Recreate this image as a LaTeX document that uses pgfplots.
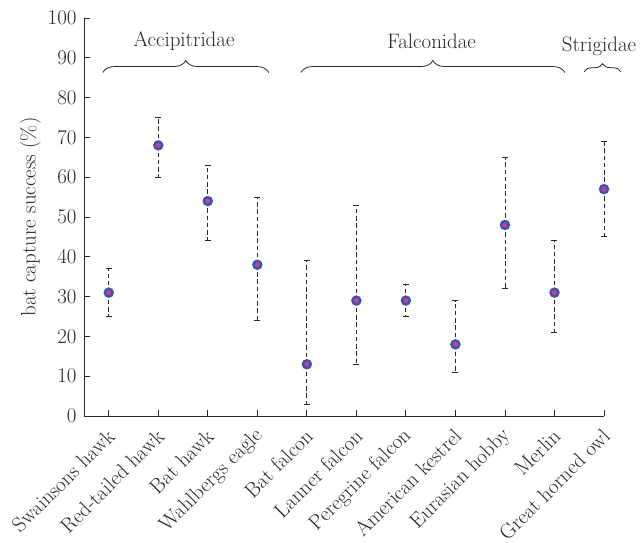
\documentclass[border=0pt]{standalone}
\usepackage{pgfplots}
\pgfplotsset{compat=1.18}
\usetikzlibrary{decorations.pathreplacing}

\definecolor{ptblue}{RGB}{64,82,170}
\definecolor{ptpink}{RGB}{184,70,150}
\definecolor{axgray}{RGB}{40,40,40}

% x, success, error up, error down
\pgfplotstableread{
x y ep em
0 31 6 6
1 68 7 8
2 54 9 10
3 38 17 14
4 13 26 10
5 29 24 16
6 29 4 4
7 18 11 7
8 48 17 16
9 31 13 10
10 57 12 12
}\capture

\newcommand{\lblfont}{\fontsize{21}{23}\selectfont}

\begin{document}
\begin{tikzpicture}
% frame of the reference picture, the axis box sits at (0,0)
\useasboundingbox (-84bp,-127bp) rectangle (557bp,416bp);
\begin{axis}[
    at={(0,0)}, anchor=south west,
    width=520bp, height=398bp,
    scale only axis,
    xmin=-0.5, xmax=10,
    ymin=0, ymax=100,
    clip=false,
    axis x line*=bottom,
    axis y line*=left,
    axis line style={axgray, line width=0.9pt},
    tick style={axgray, line width=0.9pt},
    major tick length=6bp,
    xtick={0,...,10},
    ytick={0,10,...,100},
    xticklabels={Swainsons hawk,Red-tailed hawk,Bat hawk,Wahlbergs eagle,Bat falcon,Lanner falcon,Peregrine falcon,American kestrel,Eurasian hobby,Merlin,Great horned owl},
    x tick label style={xshift=3bp, yshift=-16bp, rotate=45, anchor=east, inner sep=1pt},
    y tick label style={xshift=-4bp},
    ticklabel style={font=\lblfont, text=axgray},
    /pgf/number format/assume math mode=true,
    ylabel={bat capture success (\%)},
    ylabel style={font=\lblfont, text=axgray},
]
\addplot[
    only marks,
    mark=*,
    mark size=4pt,
    mark options={draw=ptblue, fill=ptpink, line width=2.4pt},
    error bars/.cd,
        y dir=both, y explicit,
        error bar style={axgray, line width=0.85pt, dash pattern=on 4.5pt off 2.8pt},
        error mark options={axgray, solid, rotate=90, mark size=3pt, line width=0.9pt},
] table[x=x, y=y, y error plus=ep, y error minus=em] {\capture};

\draw[axgray, line width=0.8pt, decorate, decoration={brace, amplitude=12bp}]
    (axis cs:-0.12,86.3) -- (axis cs:3.23,86.3);
\draw[axgray, line width=0.8pt, decorate, decoration={brace, amplitude=12bp}]
    (axis cs:3.88,86.3) -- (axis cs:9.21,86.3);
\draw[axgray, line width=0.8pt, decorate, decoration={brace, amplitude=8bp}]
    (axis cs:9.6,86.5) -- (axis cs:10.34,86.5);
\node[font=\lblfont, text=axgray] at (axis cs:1.52,94.2) {Accipitridae};
\node[font=\lblfont, text=axgray] at (axis cs:6.52,94.2) {Falconidae};
\node[font=\lblfont, text=axgray] at (axis cs:9.9,92.8) {Strigidae};
\end{axis}
\end{tikzpicture}
\end{document}
